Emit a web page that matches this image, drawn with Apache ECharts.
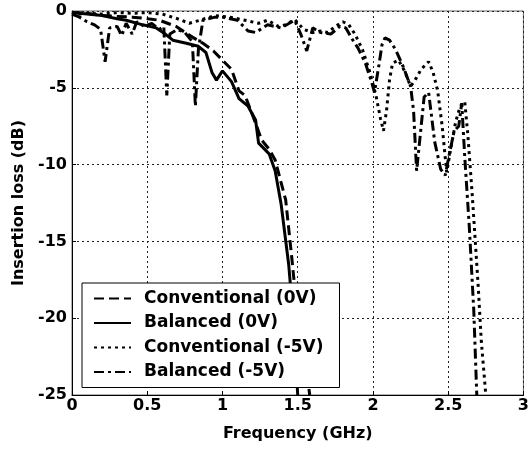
<!DOCTYPE html>
<html>
<head>
<meta charset="utf-8">
<script src="https://cdn.jsdelivr.net/npm/echarts@6/dist/echarts.min.js"></script>
<style>
  html, body { margin: 0; padding: 0; background: #fff; }
  #chart { width: 532px; height: 449px; }
</style>
</head>
<body>
<div id="chart"></div>
<script>
// tick labels
const xTicks = [0, 0.5, 1, 1.5, 2, 2.5, 3];
const yTicks = [0, -5, -10, -15, -20, -25];

// Conventional (0V)
const convFreq0 = [0, 0.1, 0.2, 0.3, 0.4, 0.5, 0.58, 0.69, 0.8, 0.87, 0.94, 1.0, 1.06, 1.11, 1.15, 1.22, 1.26, 1.31, 1.35, 1.42, 1.46, 1.48, 1.53, 1.58];
const convLoss0 = [-0.1, -0.15, -0.3, -0.35, -0.4, -0.5, -0.6, -1.0, -1.7, -2.1, -2.6, -3.2, -3.8, -5.2, -5.5, -7.3, -8.4, -9.0, -9.7, -12.3, -16, -18, -21.5, -25];

// Balanced (0V)
const balFreq0 = [0, 0.1, 0.2, 0.3, 0.36, 0.47, 0.56, 0.62, 0.67, 0.76, 0.84, 0.89, 0.93, 0.96, 1.0, 1.06, 1.11, 1.17, 1.22, 1.24, 1.26, 1.31, 1.35, 1.39, 1.44, 1.47, 1.5];
const balLoss0 = [-0.1, -0.2, -0.3, -0.5, -0.6, -0.9, -1.1, -1.5, -1.9, -2.1, -2.3, -2.7, -4.0, -4.5, -3.9, -4.6, -5.7, -6.2, -7.1, -8.6, -8.8, -9.3, -10.4, -12.6, -16.5, -20, -25];

// Conventional (-5V)
const convFreq5 = [0, 0.05, 0.1, 0.2, 0.3, 0.4, 0.5, 0.6, 0.7, 0.78, 0.85, 0.95, 1.05, 1.15, 1.24, 1.3, 1.37, 1.42, 1.48, 1.54, 1.6, 1.65, 1.7, 1.75, 1.8, 1.84, 1.88, 1.93, 1.98, 2.02, 2.05, 2.07, 2.09, 2.11, 2.13, 2.17, 2.21, 2.25, 2.28, 2.32, 2.37, 2.4, 2.43, 2.46, 2.49, 2.52, 2.55, 2.58, 2.61, 2.63, 2.66, 2.7, 2.72, 2.75];
const convLoss5 = [-0.1, -0.2, -0.15, -0.2, -0.1, -0.15, -0.1, -0.2, -0.5, -0.8, -0.6, -0.3, -0.4, -0.6, -0.8, -0.6, -1.0, -0.9, -0.55, -1.2, -1.4, -1.3, -1.4, -1.0, -0.7, -0.9, -1.5, -2.5, -4.0, -5.5, -7.0, -7.8, -6.5, -4.5, -3.4, -3.2, -3.9, -4.9, -4.5, -3.8, -3.3, -4.0, -5.2, -7.5, -10.5, -8.8, -7.2, -6.2, -5.9, -8, -12, -18, -21.5, -25];

// Balanced (-5V)
const balFreq5 = [0, 0.05, 0.1, 0.15, 0.19, 0.22, 0.25, 0.3, 0.33, 0.36, 0.4, 0.43, 0.48, 0.53, 0.58, 0.61, 0.63, 0.65, 0.7, 0.75, 0.8, 0.82, 0.84, 0.87, 0.95, 1.0, 1.1, 1.17, 1.22, 1.3, 1.39, 1.48, 1.52, 1.56, 1.6, 1.65, 1.72, 1.78, 1.82, 1.86, 1.9, 1.95, 1.99, 2.01, 2.04, 2.06, 2.08, 2.11, 2.15, 2.2, 2.25, 2.27, 2.29, 2.31, 2.34, 2.37, 2.41, 2.45, 2.48, 2.51, 2.54, 2.57, 2.59, 2.61, 2.64, 2.67, 2.69];
const balLoss5 = [-0.2, -0.4, -0.7, -0.9, -1.2, -3.3, -1.1, -1.0, -1.6, -0.8, -1.5, -0.7, -1.0, -0.8, -1.2, -1.0, -5.5, -1.5, -1.2, -1.4, -2.0, -6.2, -2.5, -0.6, -0.4, -0.4, -0.6, -1.3, -1.4, -0.9, -1.1, -0.6, -1.5, -2.6, -1.1, -1.4, -1.5, -1.0, -1.1, -1.8, -2.4, -3.4, -4.6, -5.3, -3.5, -2.2, -1.75, -1.9, -2.5, -3.6, -4.9, -6.5, -10.4, -8.5, -5.6, -5.3, -8.5, -10.3, -10.7, -9.2, -7.8, -7.5, -6.0, -9.5, -14, -19.5, -25];

const seriesNames = ['Conventional (0V)', 'Balanced (0V)', 'Conventional (-5V)', 'Balanced (-5V)'];

function pairs(xs, ys) {
    return xs.map(function(x, i) { return [x, ys[i]]; });
}

const chart = echarts.init(document.getElementById('chart'));
const font = 'DejaVu Sans, Liberation Sans, sans-serif';

function lineSeries(name, data, dash) {
    return {
        name: name,
        type: 'line',
        data: data,
        symbol: 'none',
        color: '#000',
        clip: true,
        lineStyle: { color: '#000', width: 3, type: dash, cap: 'butt' }
    };
}

chart.setOption({
    animation: false,
    backgroundColor: '#fff',
    grid: {
        left: 72, right: 4, top: 11, bottom: 54,
        show: true, borderColor: '#666', borderWidth: 1
    },
    xAxis: {
        type: 'value',
        min: xTicks[0],
        max: xTicks[xTicks.length - 1],
        interval: 0.5,
        name: 'Frequency (GHz)',
        nameLocation: 'middle',
        nameGap: 31,
        nameTextStyle: { fontFamily: font, fontWeight: 'bold', fontSize: 16, color: '#000' },
        axisLine: { show: true, onZero: false, lineStyle: { color: '#000', width: 1 } },
        axisTick: { show: true, inside: true, length: 4, lineStyle: { color: '#000' } },
        axisLabel: { fontFamily: font, fontWeight: 'bold', fontSize: 16, color: '#000', margin: 3 },
        splitLine: { show: true, lineStyle: { color: '#222', width: 1, type: [2, 3] } }
    },
    yAxis: {
        type: 'value',
        min: yTicks[yTicks.length - 1],
        max: yTicks[0],
        interval: 5,
        name: 'Insertion loss (dB)',
        nameLocation: 'middle',
        nameGap: 42,
        nameTextStyle: { fontFamily: font, fontWeight: 'bold', fontSize: 16, color: '#000' },
        axisLine: { show: true, onZero: false, lineStyle: { color: '#000', width: 1 } },
        axisTick: { show: true, inside: true, length: 4, lineStyle: { color: '#000' } },
        axisLabel: { fontFamily: font, fontWeight: 'bold', fontSize: 16, color: '#000', margin: 5 },
        splitLine: { show: true, lineStyle: { color: '#222', width: 1, type: [2, 3] } }
    },
    legend: {
        orient: 'vertical',
        left: 82,
        top: 283,
        padding: [7, 16, 7, 11],
        itemGap: 7.5,
        itemWidth: 37,
        itemHeight: 14,
        backgroundColor: '#fff',
        borderColor: '#000',
        borderWidth: 1,
        itemStyle: { opacity: 0 },
        textStyle: { fontFamily: font, fontWeight: 'bold', fontSize: 17, lineHeight: 17, color: '#000', padding: [0, 0, 0, 8] },
        data: seriesNames
    },
    series: [
        lineSeries(seriesNames[0], pairs(convFreq0, convLoss0), [10, 5]),
        lineSeries(seriesNames[1], pairs(balFreq0, balLoss0), 'solid'),
        lineSeries(seriesNames[2], pairs(convFreq5, convLoss5), [3, 4]),
        lineSeries(seriesNames[3], pairs(balFreq5, balLoss5), [10, 4, 3, 4])
    ]
});
</script>
</body>
</html>
